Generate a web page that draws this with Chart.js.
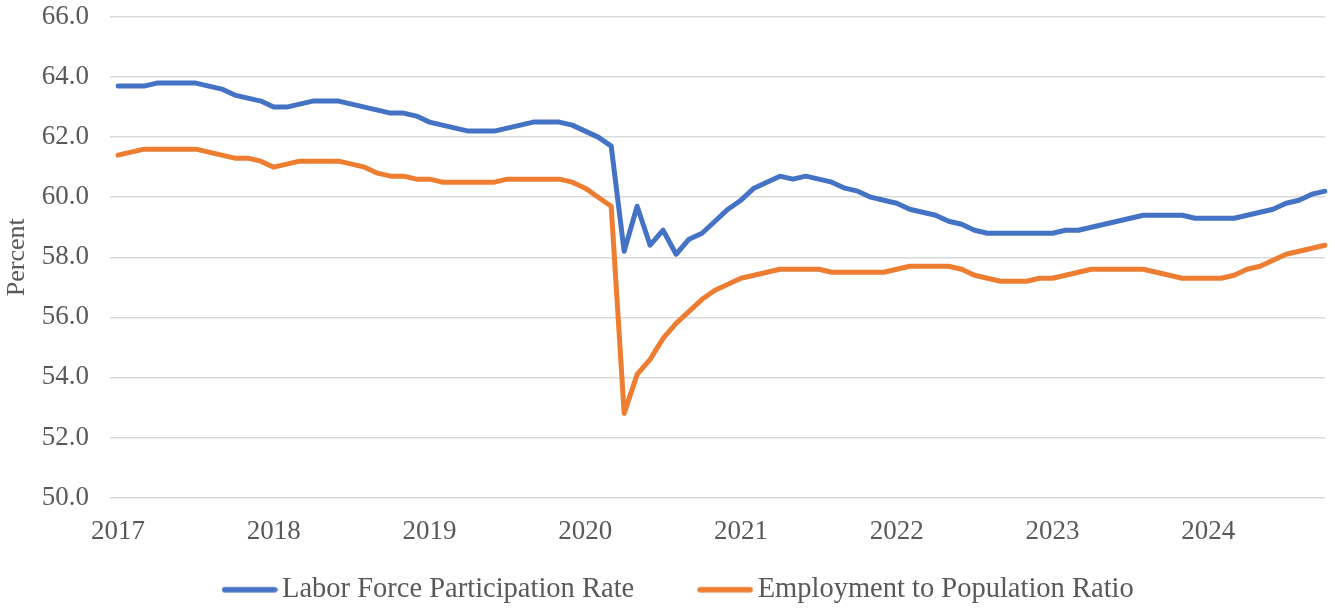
<!DOCTYPE html>
<html>
<head>
<meta charset="utf-8">
<script src="https://cdn.jsdelivr.net/npm/chart.js@4/dist/chart.umd.min.js"></script>
<style>
  html, body { margin: 0; padding: 0; background: #fff; }
  #wrap { width: 1335px; height: 608px; position: relative; }
</style>
</head>
<body>
<div id="wrap"><canvas id="grafico"></canvas></div>
<script>
// --- dados (mensal, jan/2017 a out/2024) ---
const anos = ['2017', '2018', '2019', '2020', '2021', '2022', '2023', '2024'];
const mesesNoUltimoAno = 10;

const taxaParticipacao = [
  63.7, 63.7, 63.7, 63.8, 63.8, 63.8, 63.8, 63.7, 63.6, 63.4, 63.3, 63.2, // 2017
  63.0, 63.0, 63.1, 63.2, 63.2, 63.2, 63.1, 63.0, 62.9, 62.8, 62.8, 62.7, // 2018
  62.5, 62.4, 62.3, 62.2, 62.2, 62.2, 62.3, 62.4, 62.5, 62.5, 62.5, 62.4, // 2019
  62.2, 62.0, 61.7, 58.2, 59.7, 58.4, 58.9, 58.1, 58.6, 58.8, 59.2, 59.6, // 2020
  59.9, 60.3, 60.5, 60.7, 60.6, 60.7, 60.6, 60.5, 60.3, 60.2, 60.0, 59.9, // 2021
  59.8, 59.6, 59.5, 59.4, 59.2, 59.1, 58.9, 58.8, 58.8, 58.8, 58.8, 58.8, // 2022
  58.8, 58.9, 58.9, 59.0, 59.1, 59.2, 59.3, 59.4, 59.4, 59.4, 59.4, 59.3, // 2023
  59.3, 59.3, 59.3, 59.4, 59.5, 59.6, 59.8, 59.9, 60.1, 60.2              // 2024
];

const empregoPopulacao = [
  61.4, 61.5, 61.6, 61.6, 61.6, 61.6, 61.6, 61.5, 61.4, 61.3, 61.3, 61.2, // 2017
  61.0, 61.1, 61.2, 61.2, 61.2, 61.2, 61.1, 61.0, 60.8, 60.7, 60.7, 60.6, // 2018
  60.6, 60.5, 60.5, 60.5, 60.5, 60.5, 60.6, 60.6, 60.6, 60.6, 60.6, 60.5, // 2019
  60.3, 60.0, 59.7, 52.8, 54.1, 54.6, 55.3, 55.8, 56.2, 56.6, 56.9, 57.1, // 2020
  57.3, 57.4, 57.5, 57.6, 57.6, 57.6, 57.6, 57.5, 57.5, 57.5, 57.5, 57.5, // 2021
  57.6, 57.7, 57.7, 57.7, 57.7, 57.6, 57.4, 57.3, 57.2, 57.2, 57.2, 57.3, // 2022
  57.3, 57.4, 57.5, 57.6, 57.6, 57.6, 57.6, 57.6, 57.5, 57.4, 57.3, 57.3, // 2023
  57.3, 57.3, 57.4, 57.6, 57.7, 57.9, 58.1, 58.2, 58.3, 58.4              // 2024
];

// rótulos mensais (só janeiro mostra o ano no eixo)
const meses = [];
anos.forEach((ano, i) => {
  const n = i === anos.length - 1 ? mesesNoUltimoAno : 12;
  for (let m = 1; m <= n; m++) meses.push(ano + '-' + String(m).padStart(2, '0'));
});

const fonte = 'Liberation Serif, Times New Roman, serif';
const corTexto = '#595959';
const corGrade = '#D9D9D9';
const azul = '#4472C4';
const laranja = '#ED7D31';

// amostra da legenda: traço grosso com pontas arredondadas
function criarAmostra(cor) {
  const c = document.createElement('canvas');
  c.width = 56;
  c.height = 8;
  const g = c.getContext('2d');
  g.strokeStyle = cor;
  g.lineWidth = 5.5;
  g.lineCap = 'round';
  g.beginPath();
  g.moveTo(3, 4);
  g.lineTo(53, 4);
  g.stroke();
  return c;
}

new Chart(document.getElementById('grafico'), {
  type: 'line',
  data: {
    labels: meses,
    datasets: [
      {
        label: 'Labor Force Participation Rate',
        data: taxaParticipacao,
        borderColor: azul,
        backgroundColor: azul,
        borderWidth: 5,
        borderCapStyle: 'round',
        borderJoinStyle: 'round',
        pointRadius: 0,
        pointStyle: criarAmostra(azul),
        tension: 0
      },
      {
        label: 'Employment to Population Ratio',
        data: empregoPopulacao,
        borderColor: laranja,
        backgroundColor: laranja,
        borderWidth: 5,
        borderCapStyle: 'round',
        borderJoinStyle: 'round',
        pointRadius: 0,
        pointStyle: criarAmostra(laranja),
        tension: 0
      }
    ]
  },
  options: {
    responsive: true,
    maintainAspectRatio: false,
    animation: false,
    events: [],
    layout: { padding: { left: 40, right: 10, top: 17, bottom: -6 } },
    scales: {
      x: {
        type: 'category',
        grid: { display: false, drawTicks: false },
        border: { display: false },
        ticks: {
          autoSkip: false,
          maxRotation: 0,
          padding: 18,
          color: corTexto,
          font: { family: fonte, size: 27 },
          callback: (v, i) => (i % 12 === 0 ? anos[i / 12] : null)
        },
        afterFit: (s) => { s.height = 48; }
      },
      y: {
        min: 50,
        max: 66,
        grid: { color: corGrade, lineWidth: 1.5, drawTicks: true, tickLength: 8 },
        border: { display: false },
        ticks: {
          stepSize: 2,
          padding: 21,
          color: corTexto,
          font: { family: fonte, size: 27 },
          callback: (v) => v.toFixed(1)
        },
        title: {
          display: true,
          text: 'Percent',
          color: corTexto,
          font: { family: fonte, size: 26 },
          padding: { top: -38, bottom: 0 }
        },
        afterFit: (s) => {
          s.width = 78;
          s.paddingTop = 0;
          s.paddingBottom = 0;
        }
      }
    },
    plugins: {
      tooltip: { enabled: false },
      legend: {
        position: 'bottom',
        labels: {
          usePointStyle: true,
          pointStyleWidth: 36.5,
          padding: 30,
          color: corTexto,
          font: { family: fonte, size: 28.5 },
          // espaço extra entre os dois itens da legenda
          generateLabels: (chart) => {
            const itens = Chart.defaults.plugins.legend.labels.generateLabels(chart);
            itens.forEach((it, i) => {
              if (i < itens.length - 1) it.text += '\u00A0\u00A0\u00A0\u00A0\u00A0\u00A0';
            });
            return itens;
          }
        }
      }
    }
  }
});
</script>
</body>
</html>
